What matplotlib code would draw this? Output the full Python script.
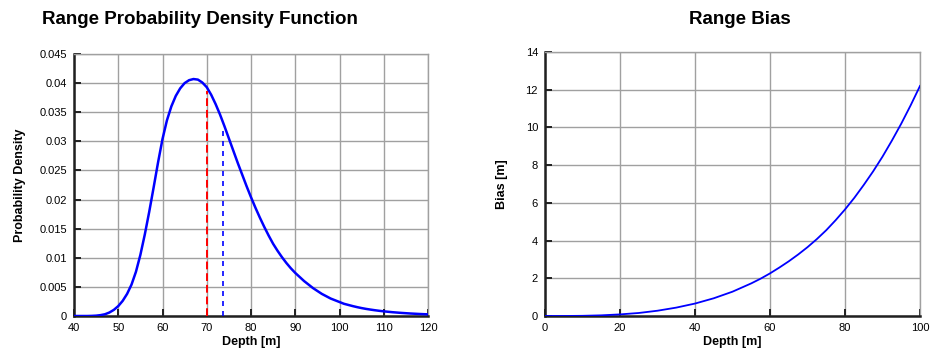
import matplotlib
matplotlib.use("Agg")
import matplotlib.pyplot as plt

plt.rcParams['font.family'] = ['Liberation Sans', 'DejaVu Sans']

# ---- Data: Range PDF ----
depth_pdf = [40, 41, 42, 43, 44, 45, 46, 47, 48, 49, 50, 51, 52, 53, 54, 55, 56, 57, 58, 59,
             60, 61, 62, 63, 64, 65, 66, 67, 68, 69, 70, 71, 72, 73, 74, 75, 76, 77, 78, 79,
             80, 81, 82, 83, 84, 85, 86, 87, 88, 89, 90, 91, 92, 93, 94, 95, 96, 97, 98, 99,
             100, 101, 102, 103, 104, 105, 106, 107, 108, 109, 110, 112, 114, 116, 118, 120]
pdf_vals = [0, 0, 0, 0, 0.00002, 0.00006, 0.00015, 0.0003, 0.0006, 0.00105,
            0.0017, 0.0026, 0.0038, 0.0054, 0.0076, 0.0105, 0.0140, 0.0179, 0.0221, 0.0264,
            0.0304, 0.0336, 0.0360, 0.0378, 0.0391, 0.0400, 0.0405, 0.0407, 0.0406, 0.0401,
            0.0393, 0.0380, 0.0364, 0.0346, 0.0326, 0.0305, 0.0284, 0.0263, 0.0243, 0.0223,
            0.0204, 0.0186, 0.0169, 0.0153, 0.0138, 0.0124, 0.0112, 0.0101, 0.0091, 0.0082,
            0.0074, 0.0067, 0.0060, 0.0054, 0.0048, 0.0043, 0.0038, 0.0034, 0.0030, 0.0027,
            0.0024, 0.0021, 0.0019, 0.0017, 0.00152, 0.00136, 0.00122, 0.0011, 0.00099, 0.00089,
            0.0008, 0.00065, 0.00053, 0.00043, 0.00035, 0.00028]
true_depth = 70.0
true_depth_height = 0.0387
mean_depth = 73.6
mean_depth_height = 0.0319

pdf_xticks = [40, 50, 60, 70, 80, 90, 100, 110, 120]
pdf_yticks = [0, 0.005, 0.01, 0.015, 0.02, 0.025, 0.03, 0.035, 0.04, 0.045]
pdf_yticklabels = ['0', '0.005', '0.01', '0.015', '0.02', '0.025', '0.03', '0.035', '0.04', '0.045']

# ---- Data: Range Bias ----
depth_bias = [0, 5, 10, 15, 20, 25, 30, 35, 40, 45, 50, 55, 57.5, 60, 62.5, 65, 67.5, 70,
              72.5, 75, 77.5, 80, 82.5, 85, 87.5, 90, 92.5, 95, 97.5, 100]
bias_vals = [0, 0.001, 0.01, 0.035, 0.085, 0.16, 0.28, 0.445, 0.66, 0.94, 1.29, 1.73, 1.98,
             2.26, 2.57, 2.90, 3.26, 3.65, 4.08, 4.55, 5.08, 5.65, 6.27, 6.95, 7.67, 8.45,
             9.30, 10.2, 11.17, 12.2]
bias_xticks = [0, 20, 40, 60, 80, 100]
bias_yticks = [0, 2, 4, 6, 8, 10, 12, 14]

W, H = 931, 362
fig = plt.figure(figsize=(W / 100, H / 100), dpi=100)

grid_c = '#a0a0a0'


def style(ax):
    ax.grid(True, color=grid_c, linewidth=1.0)
    ax.set_axisbelow(True)
    for s in ('top', 'right'):
        ax.spines[s].set_color(grid_c)
        ax.spines[s].set_linewidth(1.0)
    for s in ('left', 'bottom'):
        ax.spines[s].set_color('#202020')
        ax.spines[s].set_linewidth(1.8)
    ax.tick_params(direction='in', length=5, width=1.4, color='#202020',
                   labelsize=8, pad=5)


ax1 = fig.add_axes([74 / W, 1 - 316 / H, 354 / W, 262 / H])
style(ax1)
ax1.plot(depth_pdf, pdf_vals, color='#0000ff', linewidth=1.8, zorder=3)
ax1.plot([true_depth, true_depth], [0, true_depth_height], color='#ff0000',
         linestyle=(0, (4, 2)), linewidth=1.4, zorder=3)
ax1.plot([mean_depth, mean_depth], [0, mean_depth_height], color='#0000ff',
         linestyle=(0, (3, 3)), linewidth=1.2, zorder=3)
ax1.set_xlim(40, 120)
ax1.set_ylim(0, 0.045)
ax1.set_xticks(pdf_xticks)
ax1.set_yticks(pdf_yticks)
ax1.set_yticklabels(pdf_yticklabels)
ax1.set_xlabel('Depth [m]', fontsize=9, fontweight='bold', labelpad=2)
ax1.set_ylabel('Probability Density', fontsize=9, fontweight='bold', labelpad=10)

ax2 = fig.add_axes([545 / W, 1 - 316 / H, 375 / W, 264 / H])
style(ax2)
ax2.plot(depth_bias, bias_vals, color='#0000ff', linewidth=1.3, zorder=3)
ax2.set_xlim(0, 100)
ax2.set_ylim(0, 14)
ax2.set_xticks(bias_xticks)
ax2.set_yticks(bias_yticks)
ax2.set_xlabel('Depth [m]', fontsize=9, fontweight='bold', labelpad=2)
ax2.set_ylabel('Bias [m]', fontsize=9, fontweight='bold', labelpad=13)

fig.text(200 / W, 1 - 19 / H, 'Range Probability Density Function', ha='center', va='center',
         fontsize=13.5, fontweight='bold')
fig.text(740 / W, 1 - 19 / H, 'Range Bias', ha='center', va='center',
         fontsize=13.5, fontweight='bold')

fig.savefig('out.png', dpi=100)
